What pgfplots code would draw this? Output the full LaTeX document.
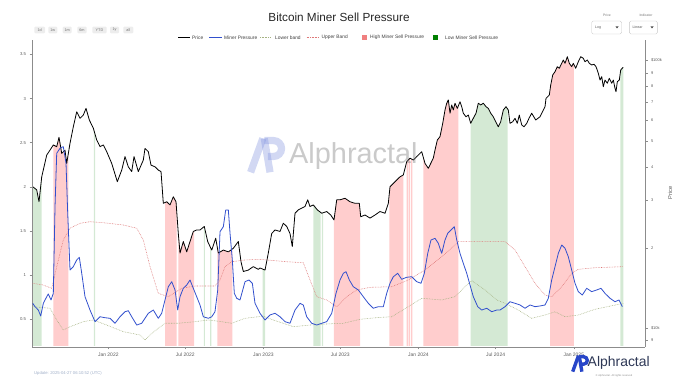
\documentclass[border=0pt]{standalone}
\usepackage{fontspec}
\setmainfont{Liberation Sans}
\usepackage{pgfplots}
\usepackage{pgfplotstable}
\pgfplotsset{compat=1.18}
\definecolor{pinkband}{RGB}{255,205,205}
\definecolor{greenband}{RGB}{212,233,212}
\definecolor{pinkkey}{RGB}{240,128,128}
\definecolor{greenkey}{RGB}{0,128,0}
\definecolor{mpblue}{RGB}{50,80,205}
\definecolor{upcol}{RGB}{222,120,120}
\definecolor{lowcol}{RGB}{165,178,130}
\definecolor{logoblue}{RGB}{40,70,200}
\definecolor{logotext}{RGB}{45,55,85}
\definecolor{updcol}{RGB}{160,175,200}

\pgfplotstableread{
d p
-178.0 33.8
-168.6 32.9
-163.2 29.7
-156.8 36.8
-151.4 40.1
-145.0 44.4
-137.3 46.3
-129.5 48.4
-121.5 47.7
-116.1 51.7
-109.7 45.0
-102.0 46.3
-98.0 41.3
-90.2 49.1
-82.4 56.6
-74.4 64.4
-66.6 60.9
-58.9 62.6
-52.5 66.3
-44.7 60.0
-35.3 55.9
-27.3 50.5
-19.5 47.7
-11.8 48.4
-3.8 45.7
8.0 41.3
21.2 35.3
31.6 39.0
39.3 43.8
47.1 40.1
55.1 38.5
60.5 43.8
70.6 38.5
82.4 42.5
86.4 47.0
94.2 45.7
100.5 40.7
110.0 40.1
117.7 39.0
124.1 38.5
129.5 29.3
137.5 29.7
145.3 28.9
153.0 31.0
159.4 29.7
164.8 22.6
168.8 19.1
176.6 21.1
184.6 19.3
192.4 21.1
200.1 23.0
208.1 23.3
215.9 23.3
226.0 24.0
234.0 21.1
243.5 19.6
252.9 21.7
259.0 19.1
270.8 19.6
282.6 19.3
294.3 19.9
306.1 21.1
312.5 17.7
317.9 16.3
329.6 16.5
341.4 17.0
353.2 16.6
357.2 16.8
369.0 16.5
376.7 19.1
384.7 22.6
392.5 23.3
404.3 23.0
412.1 24.7
420.1 24.0
427.8 22.6
433.2 20.2
439.6 26.9
447.4 27.7
455.4 28.1
463.1 28.5
469.5 30.2
474.9 28.5
482.7 28.9
492.1 27.7
502.5 26.9
514.2 27.3
523.7 26.5
531.4 25.4
537.8 30.2
545.6 30.2
557.3 30.6
569.1 29.7
580.9 29.3
591.0 29.3
594.3 26.1
604.4 26.5
616.2 25.8
628.0 26.5
639.7 27.3
651.5 26.9
659.3 29.3
663.3 33.8
675.1 35.3
686.8 36.8
694.6 37.4
702.6 41.9
710.4 43.2
718.2 42.5
726.2 43.8
737.9 45.7
745.7 41.3
753.5 39.6
765.2 43.2
769.2 46.3
774.7 50.5
781.0 52.0
787.4 58.3
792.8 65.4
796.8 69.3
800.6 71.3
804.6 63.6
808.6 68.3
812.3 65.4
816.3 69.3
821.8 66.3
828.1 70.2
832.1 67.3
835.9 63.6
842.2 61.7
847.7 62.6
853.3 58.3
859.4 60.9
865.8 63.6
871.2 69.3
876.9 68.3
883.0 69.3
889.3 67.3
894.7 66.3
900.4 63.6
906.5 61.7
912.2 59.1
918.3 56.6
923.9 59.1
930.1 65.4
936.4 67.3
941.8 65.4
945.8 58.3
952.2 59.1
957.6 60.9
963.0 58.3
967.7 62.6
973.4 57.5
978.8 56.6
985.2 58.3
990.6 60.9
996.9 63.6
1006.4 60.0
1016.5 61.7
1028.3 67.3
1030.6 72.3
1038.4 74.4
1041.7 81.1
1046.4 88.4
1051.8 90.9
1057.2 94.9
1061.9 93.6
1067.6 97.7
1071.3 100.5
1075.4 97.7
1080.8 103.4
1085.5 97.7
1091.1 94.9
1094.9 97.7
1100.5 93.6
1106.7 99.1
1112.3 103.4
1118.4 102.0
1122.4 99.1
1127.9 100.5
1132.6 97.7
1138.2 96.3
1143.6 96.9
1148.4 94.9
1153.8 89.7
1157.8 84.6
1161.8 87.1
1165.5 79.9
1169.5 84.6
1174.9 82.3
1179.6 85.9
1185.3 82.3
1189.1 84.6
1193.1 78.8
1195.4 76.5
1198.5 83.4
1203.2 84.6
1206.5 92.2
1211.2 94.1
1212.6 94.3
}\pricedata

\pgfplotstableread{
d v
-178.0 0.681
-172.6 0.643
-164.8 0.605
-159.2 0.537
-153.0 0.681
-145.0 0.756
-141.3 0.787
-134.9 0.719
-129.5 0.794
-125.5 1.775
-121.5 2.380
-113.7 2.437
-106.0 2.455
-99.6 2.267
-95.6 1.700
-90.2 1.058
-82.4 1.096
-74.4 1.172
-68.3 1.202
-62.6 1.021
-54.9 0.756
-43.1 0.605
-31.3 0.473
-19.5 0.529
-7.8 0.518
4.0 0.511
15.8 0.455
27.5 0.529
39.3 0.586
47.1 0.597
55.1 0.529
66.9 0.435
78.6 0.455
86.4 0.511
94.2 0.568
106.0 0.605
117.7 0.511
125.7 0.568
133.5 0.719
141.3 0.869
149.3 0.926
157.1 0.832
163.4 0.605
168.8 0.756
176.6 0.851
184.6 0.888
192.4 0.945
200.1 0.851
208.1 0.756
215.9 0.662
223.7 0.529
235.5 0.511
243.5 0.529
251.2 0.586
257.6 0.832
263.0 1.492
270.8 1.549
276.4 1.738
282.6 1.738
286.6 1.474
292.0 1.172
296.7 0.794
302.3 0.738
310.1 0.719
321.9 0.926
331.3 0.945
339.1 0.908
345.4 0.681
357.2 0.568
369.0 0.492
380.7 0.549
392.5 0.568
404.3 0.529
416.1 0.473
427.8 0.455
439.6 0.605
451.4 0.681
459.1 0.662
467.1 0.529
478.9 0.455
490.7 0.435
502.5 0.455
514.2 0.473
526.0 0.568
536.1 0.794
545.6 0.945
553.3 1.021
559.7 1.039
567.5 0.945
576.9 0.869
588.7 0.832
600.4 0.756
612.2 0.681
624.0 0.625
635.7 0.643
647.5 0.643
655.5 0.794
663.3 0.908
671.1 0.982
681.4 1.021
690.8 0.953
702.6 0.976
714.4 0.982
726.2 0.926
736.3 0.908
744.1 1.021
752.1 1.247
759.8 1.398
769.3 1.417
777.0 1.361
785.0 1.247
792.8 1.398
799.2 1.474
806.9 1.511
814.7 1.549
820.4 1.398
828.1 1.247
835.9 1.134
843.9 1.021
851.7 0.888
859.4 0.756
869.8 0.643
879.2 0.605
891.0 0.625
902.8 0.586
914.5 0.605
922.3 0.605
934.1 0.643
945.8 0.699
957.6 0.681
969.4 0.662
981.2 0.625
993.0 0.662
1004.7 0.643
1016.5 0.651
1028.3 0.662
1036.0 0.738
1044.0 0.945
1051.8 1.096
1059.6 1.247
1067.6 1.341
1075.4 1.304
1083.1 1.209
1091.1 1.058
1098.9 0.908
1106.7 0.813
1116.1 0.775
1126.4 0.851
1138.2 0.813
1150.0 0.832
1160.1 0.851
1169.5 0.794
1181.3 0.738
1193.1 0.699
1202.5 0.719
1210.3 0.643
}\pressuredata

\pgfplotstableread{
d v
-178.0 0.908
-153.0 0.888
-133.3 0.851
-121.5 1.096
-106.0 1.398
-90.2 1.531
-66.6 1.587
-43.1 1.605
-11.8 1.594
35.3 1.568
66.9 1.531
82.4 1.398
98.2 1.096
117.7 0.794
141.3 0.756
172.8 0.851
204.1 0.877
251.2 0.877
263.0 0.945
274.8 1.096
290.6 1.152
321.9 1.172
357.2 1.179
420.1 1.152
459.1 1.141
474.9 0.945
490.7 0.756
514.2 0.719
537.8 0.643
561.3 0.756
584.9 0.832
616.2 0.862
667.3 0.869
706.4 0.945
745.7 1.058
785.0 1.209
816.3 1.341
824.1 1.379
934.1 1.379
957.6 1.285
981.2 1.096
1004.7 0.908
1028.3 0.775
1044.0 0.756
1067.6 0.869
1091.1 1.021
1106.7 1.066
1146.0 1.084
1212.6 1.096
}\upperdata

\pgfplotstableread{
d v
-178.0 0.643
-137.3 0.625
-121.5 0.492
-106.0 0.379
-90.2 0.416
-58.9 0.473
-35.3 0.492
-3.8 0.435
35.3 0.360
74.6 0.322
86.4 0.265
102.2 0.341
133.5 0.455
164.8 0.455
204.1 0.473
235.5 0.492
267.0 0.473
290.6 0.455
321.9 0.511
353.2 0.529
365.0 0.536
388.5 0.492
435.6 0.416
474.9 0.435
514.2 0.447
553.3 0.455
592.7 0.500
635.0 0.520
667.3 0.529
706.4 0.643
737.9 0.738
785.0 0.719
816.3 0.756
839.9 0.869
855.7 0.937
887.1 0.832
915.0 0.719
934.1 0.681
965.4 0.605
996.9 0.511
1028.3 0.549
1051.8 0.586
1075.4 0.529
1106.7 0.549
1146.0 0.613
1212.6 0.681
}\lowerdata

\pgfplotsset{
  every axis/.append style={
    scale only axis, width=613bp, height=307bp,
    xmin=-179.7, xmax=1263.7,
    at={(32bp,35bp)}, anchor=south west,
    axis line style={draw=black!45, line width=0.5bp},
    tick style={draw=black!45, line width=0.4bp},
    tick align=outside,
    major tick length=2.5bp,
  }
}

\newcommand{\apicon}[4]{% x, y, size, color
  \begin{scope}[shift={(#1,#2)}, x=#3, y=#3, draw=#4, line width=0.2*#3]
    \draw (0.1,0.02) -- (0.44,0.96);
    \draw (0.48,0.96) -- (0.64,0.02);
    \draw (0.48,0.9) -- (0.74,0.9) arc[start angle=90, end angle=-90, radius=0.22] -- (0.58,0.46);
  \end{scope}}

\begin{document}
\begin{tikzpicture}
\useasboundingbox (0,0) rectangle (679bp,382bp);

% ---------- price axis (right, log) ----------
\begin{axis}[
  ymode=log, ymin=8.514, ymax=119.4,
  axis x line*=bottom, axis y line*=right,
  xtick={0,181,365,546,730,912,1096},
  xticklabels={Jan 2022,Jul 2022,Jan 2023,Jul 2023,Jan 2024,Jul 2024,Jan 2025},
  xticklabel style={font=\fontsize{5}{6}\selectfont, text=black!65},
  ytick={9,10,20,30,40,50,60,70,80,90,100},
  yticklabels={9,\$10k,2,3,4,5,6,7,8,9,\$100k},
  yticklabel style={font=\fontsize{4}{5}\selectfont, text=black!65},
  minor ytick={},
  every axis plot/.append style={line join=round},
]
% low miner sell pressure (green): area under price
\addplot[fill=greenband, draw=none] coordinates {(-178,8.6) (-178,33.8) (-168.6,32.9) (-163.2,29.7) (-157,36.6) (-157,8.6)};
\addplot[fill=greenband, draw=none] coordinates {(-34,8.6) (-34,55.0) (-31,53.0) (-31,8.6)};
\addplot[fill=greenband, draw=none] coordinates {(225,8.6) (225,23.9) (227.5,23.5) (227.5,8.6)};
\addplot[fill=greenband, draw=none] coordinates {(240,8.6) (240,20.2) (242.5,19.8) (242.5,8.6)};
\addplot[fill=greenband, draw=none] coordinates {(363.6,8.6) (363.6,16.6) (369,16.5) (369,8.6)};
\addplot[fill=greenband, draw=none] coordinates {(482.7,8.6) (482.7,28.9) (492.1,27.7) (500.1,27.1) (500.1,8.6)};
\addplot[fill=greenband, draw=none] coordinates {(503,8.6) (503,26.9) (506,27.0) (506,8.6)};
\addplot[fill=greenband, draw=none] coordinates {(853.3,8.6) (853.3,58.3) (859.4,60.9) (865.8,63.6) (871.2,69.3) (876.9,68.3) (883,69.3) (889.3,67.3) (894.7,66.3) (900.4,63.6) (906.5,61.7) (912.2,59.1) (918.3,56.6) (923.9,59.1) (930.1,65.4) (936.4,67.3) (940.4,66.0) (940.4,8.6)};
\addplot[fill=greenband, draw=none] coordinates {(1205.6,8.6) (1205.6,90.0) (1206.5,92.2) (1211.2,94.1) (1212.6,94.3) (1212.6,8.6)};
% high miner sell pressure (pink): area under price
\addplot[fill=pinkband, draw=none] coordinates {(-129.5,8.6) (-129.5,48.4) (-121.5,47.7) (-116.1,51.7) (-109.7,45.0) (-102,46.3) (-98,41.3) (-94.2,45.1) (-94.2,8.6)};
\addplot[fill=pinkband, draw=none] coordinates {(133.5,8.6) (133.5,29.5) (137.5,29.7) (145.3,28.9) (153,31.0) (159.4,29.7) (161.1,27.5) (161.1,8.6)};
\addplot[fill=pinkband, draw=none] coordinates {(164.8,8.6) (164.8,22.6) (168.8,19.1) (176.6,21.1) (184.6,19.3) (192.4,21.1) (200.1,23.0) (201.8,23.1) (201.8,8.6)};
\addplot[fill=pinkband, draw=none] coordinates {(256.7,8.6) (256.7,20.1) (259,19.1) (270.8,19.6) (282.6,19.3) (292,19.8) (292,8.6)};
\addplot[fill=pinkband, draw=none] coordinates {(531,8.6) (531,25.5) (531.4,25.4) (537.8,30.2) (545.6,30.2) (557.3,30.6) (569.1,29.7) (580.9,29.3) (591,29.3) (592.7,27.6) (592.7,8.6)};
\addplot[fill=pinkband, draw=none] coordinates {(661.6,8.6) (661.6,31.9) (663.3,33.8) (675.1,35.3) (686.8,36.8) (694.6,37.4) (694.6,8.6)};
\addplot[fill=pinkband, draw=none] coordinates {(702.6,8.6) (702.6,41.9) (705.7,42.4) (705.7,8.6)};
\addplot[fill=pinkband, draw=none] coordinates {(707.3,8.6) (707.3,42.7) (710.4,43.2) (710.4,8.6)};
\addplot[fill=pinkband, draw=none] coordinates {(712.8,8.6) (712.8,43.0) (716,42.7) (716,8.6)};
\addplot[fill=pinkband, draw=none] coordinates {(741.7,8.6) (741.7,43.5) (745.7,41.3) (753.5,39.6) (765.2,43.2) (769.2,46.3) (774.7,50.5) (781,52.0) (787.4,58.3) (792.8,65.4) (796.8,69.3) (800.6,71.3) (804.6,63.6) (808.6,68.3) (812.3,65.4) (816.3,69.3) (821.8,66.3) (824.1,67.7) (824.1,8.6)};
\addplot[fill=pinkband, draw=none] coordinates {(1040,8.6) (1040,77.7) (1041.7,81.1) (1046.4,88.4) (1051.8,90.9) (1057.2,94.9) (1061.9,93.6) (1067.6,97.7) (1071.3,100.5) (1075.4,97.7) (1080.8,103.4) (1085.5,97.7) (1091.1,94.9) (1094.9,97.7) (1096.5,96.0) (1096.5,8.6)};
% price line
\addplot[black, line width=0.8bp] table[x=d, y=p] {\pricedata};
\end{axis}

% ---------- miner pressure axis (left, linear) ----------
\begin{axis}[
  ymin=0.1863, ymax=3.663,
  axis x line=none, axis y line*=left,
  ytick={0.5,1,1.5,2,2.5,3,3.5},
  yticklabels={0.5,1,1.5,2,2.5,3,3.5},
  yticklabel style={font=\fontsize{4.3}{5}\selectfont, text=black!65},
  every axis plot/.append style={line join=round},
]
\addplot[upcol, line width=0.55bp, dash pattern=on 0.7bp off 0.9bp] table[x=d, y=v] {\upperdata};
\addplot[lowcol, line width=0.55bp, dash pattern=on 0.7bp off 0.9bp] table[x=d, y=v] {\lowerdata};
\addplot[mpblue, line width=0.8bp] table[x=d, y=v] {\pressuredata};
\end{axis}

% ---------- watermark ----------
\begin{scope}[opacity=0.35]
\apicon{247bp}{209bp}{36bp}{logoblue!60}
\node[anchor=west, text=black!60, font=\fontsize{29}{32}\selectfont, inner sep=0pt] at (289bp,226bp) {Alphractal};
\end{scope}

% ---------- title ----------
\node[font=\fontsize{11.8}{14}\selectfont, text=black!85] at (339bp,365bp) {Bitcoin Miner Sell Pressure};

% ---------- range buttons ----------
\foreach \a/\b/\t in {34.3/45/1d, 48.3/57.3/1w, 62.7/71.7/1m, 77.3/86.7/6m, 92.3/106.7/YTD, 110/119/1y, 123.3/133.3/all}{
  \fill[black!7, rounded corners=1bp] (\a bp,348.7bp) rectangle (\b bp,355.3bp);
  \node[font=\fontsize{3.8}{4}\selectfont, text=black!55, inner sep=0pt] at ({(\a+\b)/2*1bp},352bp) {\t};
}

% ---------- legend ----------
\begin{scope}[font=\fontsize{4.9}{6}\selectfont]
\draw[black, line width=0.9bp] (178bp,344.3bp) -- (190bp,344.3bp);
\node[anchor=west, inner sep=0pt, text=black!75] at (192bp,344.3bp) {Price};
\draw[mpblue, line width=0.9bp] (209bp,344.3bp) -- (222bp,344.3bp);
\node[anchor=west, inner sep=0pt, text=black!75] at (224bp,344.3bp) {Miner Pressure};
\draw[lowcol, line width=0.6bp, dash pattern=on 0.7bp off 0.9bp] (260bp,344.3bp) -- (271bp,344.3bp);
\node[anchor=west, inner sep=0pt, text=black!75] at (275bp,344.3bp) {Lower band};
\draw[upcol, line width=0.6bp, dash pattern=on 0.7bp off 0.9bp] (306.7bp,344.3bp) -- (318.3bp,344.3bp);
\node[anchor=west, inner sep=0pt, text=black!75] at (321.5bp,344.3bp) {Upper Band};
\fill[pinkkey] (362.3bp,341.8bp) rectangle (367.3bp,346.8bp);
\node[anchor=west, inner sep=0pt, text=black!75] at (370bp,344.3bp) {High Miner Sell Pressure};
\fill[greenkey] (433.3bp,341.8bp) rectangle (438.3bp,346.8bp);
\node[anchor=west, inner sep=0pt, text=black!75] at (445bp,344.3bp) {Low Miner Sell Pressure};
\end{scope}

% ---------- dropdowns ----------
\node[font=\fontsize{3.4}{4}\selectfont, text=black!55] at (607bp,366.3bp) {Price};
\draw[black!22, fill=white, rounded corners=1.5bp] (591.7bp,348bp) rectangle (621.7bp,361bp);
\node[anchor=west, font=\fontsize{3.6}{4}\selectfont, text=black!65, inner sep=0pt] at (595bp,354.5bp) {Log};
\fill[black!70] (615.5bp,355.5bp) -- (618.5bp,355.5bp) -- (617bp,353.5bp) -- cycle;
\node[font=\fontsize{3.4}{4}\selectfont, text=black!55] at (646bp,366.3bp) {Indicator};
\draw[black!22, fill=white, rounded corners=1.5bp] (629.3bp,348bp) rectangle (657.3bp,361bp);
\node[anchor=west, font=\fontsize{3.6}{4}\selectfont, text=black!65, inner sep=0pt] at (632.5bp,354.5bp) {Linear};
\fill[black!70] (650.5bp,355.5bp) -- (653.5bp,355.5bp) -- (652bp,353.5bp) -- cycle;

% ---------- right axis label ----------
\node[rotate=90, font=\fontsize{5.7}{6}\selectfont, text=black!65] at (670bp,189bp) {Price};

% ---------- footer ----------
\node[anchor=west, inner sep=0pt, font=\fontsize{4.2}{5}\selectfont, text=updcol] at (34bp,9bp) {Update: 2025-04-27 06:10:52 (UTC)};
\apicon{571bp}{10bp}{17bp}{logoblue}
\node[anchor=west, inner sep=0pt, font=\fontsize{14}{16}\selectfont, text=logotext] at (587.5bp,19.5bp) {Alphractal};
\node[font=\fontsize{2.6}{3}\selectfont, text=black!45] at (614bp,6.5bp) {© Alphractal. All rights reserved};
\end{tikzpicture}
\end{document}
